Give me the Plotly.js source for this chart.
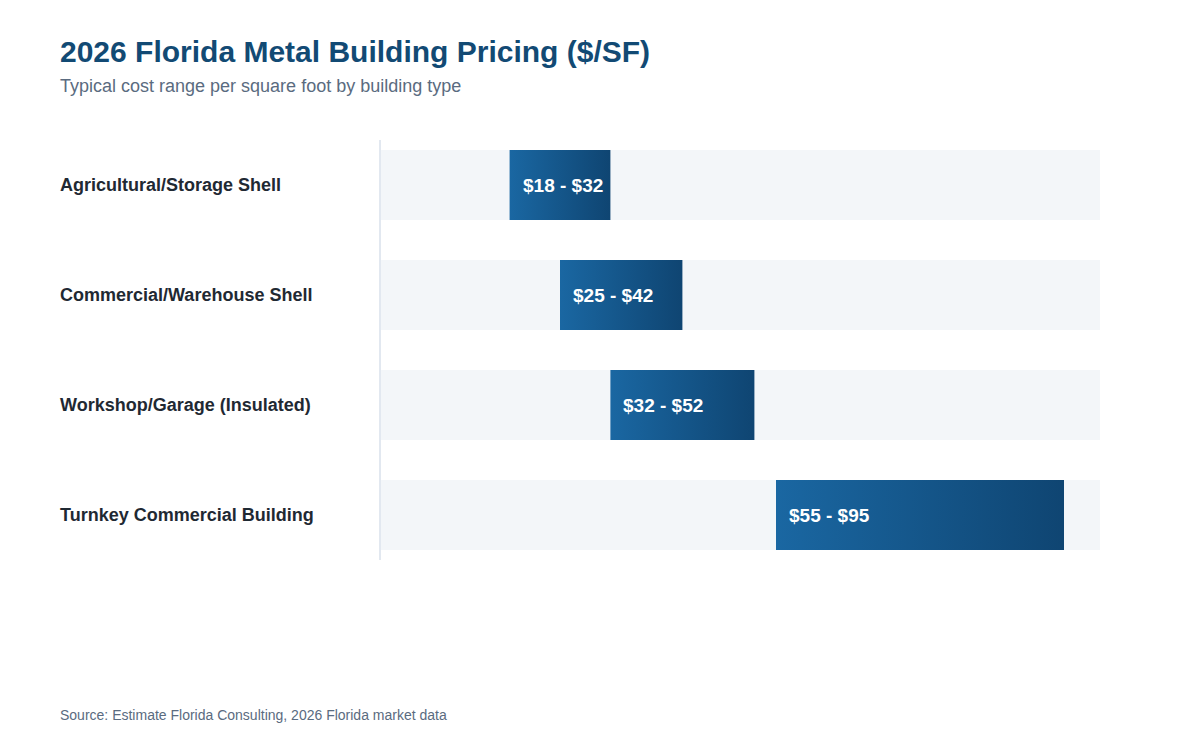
<!DOCTYPE html>
<html>
<head>
<meta charset="utf-8">
<script src="https://cdn.plot.ly/plotly-3.0.1.min.js"></script>
<style>
  html, body { margin: 0; padding: 0; background: #ffffff; }
  #chart { width: 1200px; height: 750px; }
</style>
</head>
<body>
<div id="chart"></div>
<script>
// Building types and their typical $/SF ranges
const buildingTypes = [
  "Agricultural/Storage Shell",
  "Commercial/Warehouse Shell",
  "Workshop/Garage (Insulated)",
  "Turnkey Commercial Building"
];
const lowPrice = [18, 25, 32, 55];
const highPrice = [32, 42, 52, 95];
const scaleMax = 100;

const FONT = "Liberation Sans, Arial, Helvetica, sans-serif";
const BAR_HALF = 0.318;

// Map a pixel column/row in the page to paper coordinates of the plot area
const M = { l: 380, r: 100, t: 130, b: 180 };
const W = 1200, H = 750;
const plotW = W - M.l - M.r, plotH = H - M.t - M.b;
const px = x => (x - M.l) / plotW;
const py = y => (H - M.b - y) / plotH;

const rows = buildingTypes.map((_, i) => i);

// Light track behind each range
const tracks = {
  type: "bar",
  orientation: "h",
  y: rows,
  x: rows.map(() => scaleMax),
  base: 0,
  width: BAR_HALF * 2,
  marker: { color: "#f3f6f9", line: { width: 0 } },
  hoverinfo: "skip",
  showlegend: false
};

// Gradient-filled range bars, one closed polygon per building type
const rangeBars = rows.map(i => ({
  type: "scatter",
  mode: "lines",
  x: [lowPrice[i], highPrice[i], highPrice[i], lowPrice[i], lowPrice[i]],
  y: [i - BAR_HALF, i - BAR_HALF, i + BAR_HALF, i + BAR_HALF, i - BAR_HALF],
  fill: "toself",
  fillgradient: {
    type: "horizontal",
    start: lowPrice[i],
    stop: highPrice[i],
    colorscale: [[0, "#1a67a2"], [1, "#0f4572"]]
  },
  line: { width: 0, color: "rgba(0,0,0,0)" },
  hoverinfo: "skip",
  showlegend: false
}));

const annotations = [];

rows.forEach(i => {
  annotations.push({
    xref: "x", yref: "y",
    x: lowPrice[i], y: i,
    xanchor: "left", yanchor: "middle",
    xshift: 11,
    text: "$" + lowPrice[i] + " - $" + highPrice[i],
    showarrow: false,
    font: { family: FONT, size: 19, color: "#ffffff", weight: 700 }
  });
  annotations.push({
    xref: "paper", yref: "y",
    x: px(60), y: i,
    xanchor: "left", yanchor: "middle",
    xshift: -2,
    text: buildingTypes[i],
    showarrow: false,
    font: { family: FONT, size: 18, color: "#1f2933", weight: 700 }
  });
});

annotations.push({
  xref: "paper", yref: "paper",
  x: px(60), y: py(86),
  xanchor: "left", yanchor: "middle",
  xshift: -2,
  text: "Typical cost range per square foot by building type",
  showarrow: false,
  font: { family: FONT, size: 18, color: "#5a6b80" }
});

annotations.push({
  xref: "paper", yref: "paper",
  x: px(60), y: py(715),
  xanchor: "left", yanchor: "middle",
  xshift: -2,
  text: "Source: Estimate Florida Consulting, 2026 Florida market data",
  showarrow: false,
  font: { family: FONT, size: 14, color: "#5a6b80" }
});

const layout = {
  width: W, height: H,
  margin: M,
  paper_bgcolor: "#ffffff",
  plot_bgcolor: "#ffffff",
  title: {
    text: "<b>2026 Florida Metal Building Pricing ($/SF)</b>",
    xref: "container", yref: "container",
    x: 60 / W, xanchor: "left",
    y: 1 - 51 / H, yanchor: "middle",
    font: { family: FONT, size: 30, color: "#124a74" }
  },
  xaxis: {
    range: [0, scaleMax],
    showgrid: false, zeroline: false, showline: false,
    showticklabels: false, ticks: "", fixedrange: true
  },
  yaxis: {
    range: [buildingTypes.length - 0.5, -0.5],
    showgrid: false, zeroline: false, showline: false,
    showticklabels: false, ticks: "", fixedrange: true
  },
  shapes: [{
    type: "line",
    xref: "paper", yref: "paper",
    x0: 0, x1: 0,
    y0: py(560), y1: py(140),
    line: { color: "#e2e8f0", width: 2 },
    layer: "above"
  }],
  annotations: annotations,
  bargap: 0,
  showlegend: false
};

Plotly.newPlot("chart", [tracks, ...rangeBars], layout, { displayModeBar: false, staticPlot: true });
</script>
</body>
</html>
